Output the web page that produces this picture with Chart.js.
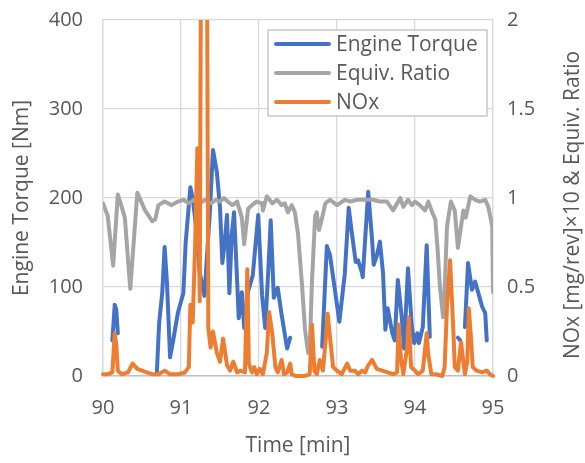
<!DOCTYPE html>
<html>
<head>
<meta charset="utf-8">
<script src="https://cdn.jsdelivr.net/npm/chart.js@4"></script>
<style>
  html, body { margin: 0; padding: 0; background: #fff; }
  #wrap { width: 585px; height: 463px; }
</style>
</head>
<body>
<div id="wrap"><canvas id="emissionChart" width="585" height="463"></canvas></div>
<script>
// time [min] and engine torque [Nm]; null = gap in the trace
const torqueTime = [
    90.12, 90.15, 90.17, 90.19, 90.20,
    90.69, 90.72, 90.76, 90.79, 90.82, 90.86, 90.90, 90.96, 91.03, 91.06,
    91.12, 91.15, 91.19, 91.24, 91.30, 91.37, 91.41, 91.46, 91.50, 91.53,
    91.56, 91.59, 91.62, 91.65, 91.68, 91.72, 91.74, 91.78, 91.81, 91.86,
    91.92, 91.99, 92.04, 92.08, 92.12, 92.15, 92.19, 92.24, 92.29, 92.36,
    92.40, 92.41,
    92.81, 92.87, 92.91, 92.96, 93.03, 93.10, 93.15, 93.19, 93.24, 93.27,
    93.32, 93.33, 93.40, 93.45, 93.47, 93.51, 93.55, 93.59, 93.62, 93.65,
    93.71, 93.74, 93.78, 93.83, 93.86, 93.91, 93.96, 93.99, 94.03, 94.05,
    94.10, 94.15, 94.19, 94.20,
    94.55, 94.58, 94.60,
    94.64, 94.68, 94.73, 94.77, 94.81, 94.86, 94.90, 94.92
];
const torqueValues = [
    40, 80, 75, 48, null,
    3, 60, 94, 145, 105, 21, 40, 71, 93, 150,
    212, 200, 170, 116, 90, 184, 254, 229, 189, 127,
    150, 181, 93, 158, 184, 106, 65, 94, 54, 95,
    113, 181, 90, 54, 120, 175, 88, 99, 69, 31,
    43, null,
    33, 146, 136, 105, 61, 115, 189, 161, 128, 130,
    116, 111, 207, 153, 125, 135, 151, 116, 52, 76,
    48, 40, 108, 66, 31, 121, 55, 37, 48, 37,
    55, 147, 44, null,
    43, 40, null,
    55, 127, 97, 106, 94, 78, 71, 40
];

// equivalence ratio (right axis)
const ratioTime = [
    90.00, 90.06, 90.13, 90.19, 90.24, 90.28, 90.35, 90.44, 90.50, 90.54,
    90.63, 90.67, 90.71, 90.79, 90.88, 90.96, 91.03, 91.10, 91.17, 91.24,
    91.31, 91.38, 91.45, 91.50, 91.55, 91.60, 91.66, 91.72, 91.78, 91.81,
    91.86, 91.91, 91.97, 92.04, 92.05, 92.10, 92.17, 92.23, 92.29, 92.33,
    92.37, 92.42, 92.46, 92.50, 92.55, 92.59, 92.63, 92.65, 92.68, 92.72,
    92.74, 92.77, 92.81, 92.85, 92.91, 93.00, 93.10, 93.17, 93.26, 93.36,
    93.46, 93.55, 93.64, 93.72, 93.81, 93.85, 93.91, 93.96, 94.00, 94.06,
    94.13, 94.17, 94.22, 94.26, 94.29, 94.32, 94.36, 94.38, 94.41, 94.46,
    94.51, 94.55, 94.59, 94.62, 94.65, 94.71, 94.77, 94.83, 94.90, 94.94,
    94.99, 95.00
];
const ratioValues = [
    0.97, 0.90, 0.62, 1.02, 0.95, 0.89, 0.49, 1.03, 0.97, 0.93,
    0.87, 0.88, 0.96, 0.98, 0.96, 0.98, 0.99, 0.97, 0.99, 0.97,
    0.99, 0.97, 0.99, 0.98, 1.00, 0.98, 0.96, 0.98, 0.89, 0.74,
    0.94, 0.96, 0.98, 0.97, 0.93, 1.01, 0.97, 0.99, 0.96, 0.97,
    0.92, 0.96, 0.92, 0.80, 0.52, 0.26, 0.13, 0.15, 0.54, 0.90,
    0.92, 0.82, 0.89, 0.97, 0.99, 0.96, 0.99, 0.98, 0.99, 0.99,
    0.99, 0.98, 0.98, 0.93, 1.00, 0.95, 0.99, 0.96, 0.98, 0.96,
    0.93, 0.98, 0.92, 0.88, 0.71, 0.50, 0.33, 0.48, 0.84, 0.98,
    0.93, 0.72, 0.84, 0.93, 0.89, 1.01, 0.99, 0.98, 0.99, 0.95,
    0.84, 0.47
];

// NOx [mg/rev] x 10 (right axis)
const noxTime = [
    90.00, 90.06, 90.12, 90.15, 90.17, 90.19, 90.24, 90.32, 90.38, 90.44,
    90.50, 90.56, 90.63, 90.71, 90.79, 90.86, 90.96, 91.05, 91.10, 91.12,
    91.13, 91.15, 91.18, 91.21, 91.22, 91.24, 91.27, 91.32, 91.35, 91.38,
    91.41, 91.46, 91.50, 91.54, 91.59, 91.63, 91.67, 91.72, 91.76, 91.82,
    91.85, 91.87, 91.91, 91.94, 91.97, 92.01, 92.05, 92.10, 92.13, 92.17,
    92.21, 92.24, 92.29, 92.32, 92.36, 92.40, 92.42, 92.47, 92.59, 92.65,
    92.68, 92.71, 92.74, 92.78, 92.82, 92.87, 92.88, 92.91, 92.95, 93.00,
    93.06, 93.13, 93.17, 93.23, 93.27, 93.32, 93.36, 93.40, 93.45, 93.51,
    93.58, 93.65, 93.72, 93.77, 93.79, 93.82, 93.85, 93.90, 93.92, 93.95,
    94.00, 94.04, 94.10, 94.15, 94.17, 94.21, 94.27, 94.35, 94.38, 94.41,
    94.45, 94.49, 94.51, 94.55, 94.59, 94.62, 94.64, 94.67, 94.69, 94.72,
    94.74, 94.79, 94.86, 94.92, 94.96, 95.00
];
const noxValues = [
    0.01, 0.01, 0.02, 0.24, 0.18, 0.03, 0.01, 0.02, 0.07, 0.04,
    0.03, 0.02, 0.01, 0.01, 0.03, 0.01, 0.01, 0.02, 0.05, 0.40,
    0.38, 0.30, 0.72, 1.28, 1.25, 0.42, 4.00, 4.00, 0.27, 0.16,
    0.25, 0.13, 0.08, 0.21, 0.06, 0.03, 0.08, 0.02, 0.03, 0.02,
    0.60, 0.07, 0.02, 0.05, 0.01, 0.04, 0.01, 0.13, 0.36, 0.24,
    0.05, 0.02, 0.09, 0.01, 0.02, 0.07, 0.01, 0.00, 0.00, 0.01,
    0.29, 0.03, 0.01, 0.09, 0.03, 0.28, 0.35, 0.22, 0.05, 0.03,
    0.01, 0.07, 0.03, 0.03, 0.01, 0.03, 0.02, 0.06, 0.09, 0.04,
    0.03, 0.02, 0.01, 0.02, 0.29, 0.10, 0.01, 0.16, 0.33, 0.05,
    0.03, 0.01, 0.03, 0.24, 0.12, 0.01, 0.01, 0.00, 0.05, 0.39,
    0.65, 0.27, 0.05, 0.03, 0.19, 0.08, 0.01, 0.08, 0.38, 0.20,
    0.05, 0.03, 0.02, 0.03, 0.01, 0.00
];

const xTicks = [90, 91, 92, 93, 94, 95];

const textColor = '#595959';
const fontFamily = '"Open Sans", "Noto Sans", sans-serif';
const tickSize = 20;
const titleSize = 21;

function toPoints(times, values) {
    return times.map((t, i) => ({ x: t, y: values[i] }));
}

// fixed axis sizes so the plot area sits where the original one does
function fixWidth(w) {
    return scale => {
        scale.width = w;
        scale.paddingTop = 0;
        scale.paddingBottom = 0;
    };
}

// legend box inside the plot, like the Excel one
const boxLegend = {
    id: 'boxLegend',
    afterDatasetsDraw(chart) {
        const ctx = chart.ctx;
        const x = 268, y = 30, w = 219, h = 86;
        ctx.save();
        ctx.fillStyle = '#fff';
        ctx.fillRect(x, y, w, h);
        ctx.strokeStyle = '#bfbfbf';
        ctx.lineWidth = 1.3;
        ctx.strokeRect(x, y, w, h);
        ctx.font = titleSize + 'px ' + fontFamily;
        ctx.textBaseline = 'middle';
        ctx.textAlign = 'left';
        chart.data.datasets.forEach((ds, i) => {
            const ly = 44 + i * 29;
            ctx.strokeStyle = ds.borderColor;
            ctx.lineWidth = 4;
            ctx.lineCap = 'round';
            ctx.beginPath();
            ctx.moveTo(276, ly);
            ctx.lineTo(329, ly);
            ctx.stroke();
            ctx.fillStyle = textColor;
            ctx.fillText(ds.label, 336, ly + 1);
        });
        ctx.restore();
    }
};

// right axis title reads bottom to top in the original
const rightTitle = {
    id: 'rightTitle',
    afterDraw(chart) {
        const ctx = chart.ctx;
        ctx.save();
        ctx.translate(573, 205);
        ctx.rotate(-Math.PI / 2);
        ctx.font = titleSize + 'px ' + fontFamily;
        ctx.fillStyle = textColor;
        ctx.textAlign = 'center';
        ctx.textBaseline = 'middle';
        ctx.fillText('NOx [mg/rev]×10 & Equiv. Ratio', 0, 0);
        ctx.restore();
    }
};

const ctx = document.getElementById('emissionChart').getContext('2d');
new Chart(ctx, {
    type: 'line',
    data: {
        datasets: [
            {
                label: 'Engine Torque',
                data: toPoints(torqueTime, torqueValues),
                yAxisID: 'y',
                borderColor: '#4472C4',
                borderWidth: 4,
                order: 3
            },
            {
                label: 'Equiv. Ratio',
                data: toPoints(ratioTime, ratioValues),
                yAxisID: 'y1',
                borderColor: '#A5A5A5',
                borderWidth: 4,
                order: 2
            },
            {
                label: 'NOx',
                data: toPoints(noxTime, noxValues),
                yAxisID: 'y1',
                borderColor: '#ED7D31',
                borderWidth: 4,
                order: 1,
                clip: { left: 2, top: 0, right: 2, bottom: 3 }
            }
        ]
    },
    options: {
        responsive: false,
        animation: false,
        spanGaps: false,
        layout: { padding: { top: 20, left: 0, right: 0, bottom: 0 } },
        elements: {
            point: { radius: 0 },
            line: { tension: 0, borderJoinStyle: 'round', borderCapStyle: 'round' }
        },
        plugins: {
            legend: { display: false },
            tooltip: { enabled: false }
        },
        scales: {
            x: {
                type: 'linear',
                min: 90,
                max: 95,
                afterBuildTicks(scale) {
                    scale.ticks = xTicks.map(v => ({ value: v }));
                },
                afterFit(scale) {
                    scale.height = 87;
                    scale.paddingLeft = 0;
                    scale.paddingRight = 0;
                },
                grid: { color: '#d9d9d9', lineWidth: 1.3, drawTicks: false },
                border: { color: '#bfbfbf', width: 1.5 },
                ticks: { color: textColor, padding: 20, font: { family: fontFamily, size: tickSize } },
                title: {
                    display: true,
                    text: 'Time [min]',
                    color: textColor,
                    padding: { top: 0, bottom: 4 },
                    font: { family: fontFamily, size: titleSize }
                }
            },
            y: {
                position: 'left',
                min: 0,
                max: 400,
                afterFit: fixWidth(103),
                grid: { color: '#d9d9d9', lineWidth: 1.3, drawTicks: false },
                border: { color: '#d9d9d9', width: 1.3 },
                ticks: { stepSize: 100, color: textColor, padding: 20, font: { family: fontFamily, size: tickSize } },
                title: {
                    display: true,
                    text: 'Engine Torque [Nm]',
                    color: textColor,
                    padding: { top: 9, bottom: 0 },
                    font: { family: fontFamily, size: titleSize }
                }
            },
            y1: {
                position: 'right',
                min: 0,
                max: 2,
                afterFit: fixWidth(92),
                grid: { drawOnChartArea: false, drawTicks: false },
                border: { color: '#d9d9d9', width: 1.3 },
                ticks: {
                    stepSize: 0.5,
                    color: textColor,
                    padding: 14,
                    font: { family: fontFamily, size: tickSize },
                    callback: v => String(+v.toFixed(1))
                }
            }
        }
    },
    plugins: [boxLegend, rightTitle]
});
</script>
</body>
</html>
